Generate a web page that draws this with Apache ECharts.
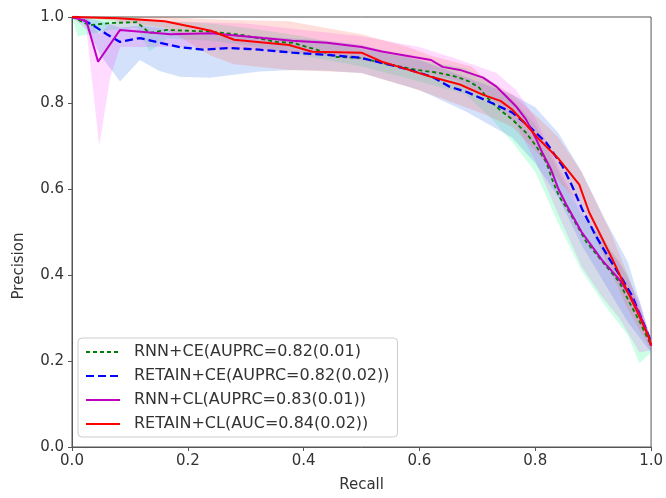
<!DOCTYPE html>
<html><head><meta charset="utf-8">
<script src="https://cdn.jsdelivr.net/npm/echarts@6/dist/echarts.min.js"></script>
<style>html,body{margin:0;padding:0;background:#fff}#c{width:666px;height:498px}</style>
</head><body><div id="c"></div>
<script>
// ---- data ----
const seriesNames = ['RNN+CE(AUPRC=0.82(0.01)', 'RETAIN+CE(AUPRC=0.82(0.02))', 'RNN+CL(AUPRC=0.83(0.01))', 'RETAIN+CL(AUC=0.84(0.02))'];
const xTicks = [0, 0.2, 0.4, 0.6, 0.8, 1.0];
const yTicks = [0, 0.2, 0.4, 0.6, 0.8, 1.0];

const greenX = [0, 0.03, 0.066, 0.112, 0.134, 0.164, 0.24, 0.295, 0.353, 0.381, 0.422, 0.457, 0.5, 0.536, 0.595, 0.634, 0.664, 0.686, 0.703, 0.715, 0.738, 0.76, 0.784, 0.802, 0.819, 0.829, 0.841, 0.859, 0.888, 0.922, 0.945, 0.962, 0.98, 1.0];
const greenY = [1.0, 0.981, 0.986, 0.988, 0.963, 0.97, 0.966, 0.958, 0.942, 0.94, 0.924, 0.907, 0.905, 0.893, 0.877, 0.87, 0.861, 0.85, 0.836, 0.815, 0.785, 0.762, 0.731, 0.699, 0.662, 0.623, 0.583, 0.546, 0.477, 0.421, 0.384, 0.338, 0.292, 0.236];

const blueX = [0, 0.01, 0.036, 0.06, 0.083, 0.117, 0.152, 0.186, 0.226, 0.272, 0.324, 0.381, 0.44, 0.5, 0.514, 0.548, 0.583, 0.622, 0.652, 0.681, 0.72, 0.738, 0.76, 0.79, 0.819, 0.847, 0.864, 0.881, 0.905, 0.928, 0.95, 0.967, 0.98, 0.997, 1.0];
const blueY = [1.0, 1.0, 0.981, 0.96, 0.942, 0.951, 0.94, 0.93, 0.924, 0.928, 0.924, 0.917, 0.912, 0.905, 0.9, 0.889, 0.877, 0.861, 0.838, 0.826, 0.803, 0.792, 0.778, 0.745, 0.708, 0.653, 0.606, 0.553, 0.49, 0.4375, 0.391, 0.352, 0.31, 0.255, 0.236];

const purpleX = [0, 0.025, 0.045, 0.083, 0.17, 0.24, 0.33, 0.38, 0.44, 0.5, 0.535, 0.59, 0.62, 0.64, 0.67, 0.71, 0.733, 0.75, 0.767, 0.784, 0.802, 0.812, 0.827, 0.84, 0.853, 0.88, 0.915, 0.945, 0.967, 0.98, 0.995, 1.0];
const purpleY = [1.0, 0.99, 0.896, 0.97, 0.96, 0.962, 0.951, 0.945, 0.94, 0.93, 0.92, 0.907, 0.9, 0.884, 0.877, 0.859, 0.838, 0.815, 0.792, 0.762, 0.715, 0.685, 0.646, 0.6, 0.565, 0.5, 0.435, 0.39, 0.345, 0.31, 0.26, 0.236];

const redX = [0, 0.08, 0.16, 0.24, 0.28, 0.375, 0.415, 0.5, 0.535, 0.565, 0.62, 0.67, 0.71, 0.74, 0.76, 0.784, 0.807, 0.841, 0.876, 0.893, 0.91, 0.933, 0.957, 0.979, 0.997, 1.0];
const redY = [1.0, 0.997, 0.99, 0.968, 0.947, 0.935, 0.919, 0.917, 0.896, 0.884, 0.861, 0.843, 0.819, 0.805, 0.785, 0.75, 0.715, 0.669, 0.61, 0.546, 0.5, 0.4375, 0.368, 0.306, 0.252, 0.236];

// shaded bands (lower / upper edges)
const greenBandX = [0, 0.01, 0.03, 0.066, 0.112, 0.134, 0.164, 0.24, 0.3, 0.4, 0.5, 0.6, 0.68, 0.72, 0.76, 0.8, 0.84, 0.88, 0.92, 0.96, 0.98, 1.0];
const greenBandLo = [1.0, 0.955, 0.96, 0.97, 0.975, 0.92, 0.95, 0.945, 0.935, 0.91, 0.885, 0.85, 0.82, 0.77, 0.71, 0.64, 0.52, 0.41, 0.33, 0.26, 0.195, 0.22];
const greenBandHi = [1.0, 1.0, 1.0, 1.0, 1.0, 0.99, 0.99, 0.985, 0.975, 0.955, 0.925, 0.9, 0.88, 0.85, 0.81, 0.75, 0.64, 0.54, 0.48, 0.4, 0.33, 0.25];

const blueBandX = [0, 0.02, 0.05, 0.083, 0.117, 0.15, 0.186, 0.238, 0.324, 0.381, 0.44, 0.5, 0.6, 0.68, 0.72, 0.76, 0.8, 0.84, 0.88, 0.92, 0.96, 1.0];
const blueBandLo = [1.0, 0.985, 0.91, 0.85, 0.9, 0.875, 0.861, 0.859, 0.873, 0.877, 0.875, 0.87, 0.83, 0.78, 0.75, 0.72, 0.66, 0.58, 0.47, 0.38, 0.29, 0.22];
const blueBandHi = [1.0, 1.0, 0.99, 0.975, 0.98, 0.975, 0.965, 0.96, 0.955, 0.95, 0.945, 0.935, 0.9, 0.86, 0.84, 0.82, 0.79, 0.73, 0.64, 0.53, 0.43, 0.25];

const purpleBandX = [0, 0.025, 0.047, 0.066, 0.083, 0.17, 0.3, 0.4, 0.5, 0.6, 0.67, 0.733, 0.767, 0.802, 0.84, 0.88, 0.915, 0.945, 0.98, 1.0];
const purpleBandLo = [1.0, 0.97, 0.70, 0.86, 0.93, 0.93, 0.925, 0.915, 0.9, 0.875, 0.85, 0.8, 0.75, 0.66, 0.54, 0.42, 0.35, 0.3, 0.22, 0.225];
const purpleBandHi = [1.0, 1.0, 0.96, 0.985, 0.995, 0.99, 0.985, 0.97, 0.955, 0.93, 0.9, 0.87, 0.83, 0.76, 0.65, 0.55, 0.48, 0.43, 0.34, 0.245];

const redBandX = [0, 0.08, 0.16, 0.24, 0.28, 0.375, 0.415, 0.5, 0.58, 0.62, 0.69, 0.71, 0.76, 0.81, 0.84, 0.88, 0.93, 0.96, 1.0];
const redBandLo = [1.0, 0.99, 0.975, 0.91, 0.89, 0.877, 0.875, 0.87, 0.838, 0.82, 0.785, 0.775, 0.745, 0.675, 0.62, 0.56, 0.41, 0.32, 0.225];
const redBandHi = [1.0, 1.0, 1.0, 0.995, 0.993, 0.99, 0.98, 0.96, 0.93, 0.91, 0.885, 0.86, 0.82, 0.76, 0.72, 0.64, 0.5, 0.4, 0.245];

// ---- chart ----
const FONT = 'DejaVu Sans';
function zip(xs, ys) { return xs.map((x, i) => [x, ys[i]]); }
function band(name, xs, lo, hi, color) {
  return {
    type: 'custom', name: name, silent: true, z: 1, clip: true,
    data: [[xs[0], lo[0]]], encode: { x: 0, y: 1 },
    renderItem: function (params, api) {
      const pts = [];
      for (let i = 0; i < xs.length; i++) pts.push(api.coord([xs[i], hi[i]]));
      for (let i = xs.length - 1; i >= 0; i--) pts.push(api.coord([xs[i], lo[i]]));
      return { type: 'polygon', shape: { points: pts }, style: { fill: color } };
    }
  };
}
function line(name, xs, ys, color, width, type) {
  return {
    type: 'line', name: name, data: zip(xs, ys), showSymbol: false, symbol: 'none', z: 3,
    lineStyle: { color: color, width: width, type: type }, itemStyle: { color: color }
  };
}

const chart = echarts.init(document.getElementById('c'), null, { renderer: 'canvas' });
chart.setOption({
  animation: false,
  backgroundColor: '#fff',
  grid: { left: 72, right: 14, top: 17, bottom: 49, show: true, borderColor: '#555', borderWidth: 1, backgroundColor: 'transparent' },
  xAxis: {
    type: 'value', min: 0, max: 1, interval: 0.2,
    name: 'Recall', nameLocation: 'middle', nameGap: 31,
    nameTextStyle: { fontSize: 15, color: '#333', fontFamily: FONT },
    axisLine: { show: true, lineStyle: { color: '#555', width: 1 } },
    axisTick: { show: true, inside: false, length: 4, lineStyle: { color: '#555' } },
    axisLabel: { fontSize: 15, color: '#333', fontFamily: FONT, margin: 7, formatter: v => v.toFixed(1) },
    splitLine: { show: false }
  },
  yAxis: {
    type: 'value', min: 0, max: 1, interval: 0.2,
    axisLine: { show: true, lineStyle: { color: '#555', width: 1 } },
    axisTick: { show: true, inside: false, length: 4, lineStyle: { color: '#555' } },
    axisLabel: { fontSize: 15, color: '#333', fontFamily: FONT, margin: 8, formatter: v => v.toFixed(1) },
    splitLine: { show: false }
  },
  graphic: [{
    type: 'text', x: 19, y: 266, rotation: Math.PI / 2,
    style: { text: 'Precision', fontSize: 15, fill: '#333', fontFamily: FONT, align: 'center', verticalAlign: 'middle' }
  }],
  legend: {
    data: seriesNames, orient: 'vertical', left: 78, top: 338,
    itemWidth: 34, itemHeight: 12, itemGap: 6,
    itemStyle: { opacity: 0 },
    padding: [5, 8, 4, 7],
    borderColor: '#ccc', borderWidth: 1, borderRadius: 4,
    backgroundColor: 'rgba(255,255,255,0.85)',
    textStyle: { fontSize: 16, color: '#333', fontFamily: FONT, lineHeight: 18, padding: [0, 0, 0, 9] }
  },
  series: [
    band('band-rnn-ce', greenBandX, greenBandLo, greenBandHi, 'rgba(0,255,127,0.2)'),
    band('band-retain-ce', blueBandX, blueBandLo, blueBandHi, 'rgba(100,149,237,0.28)'),
    band('band-rnn-cl', purpleBandX, purpleBandLo, purpleBandHi, 'rgba(255,0,255,0.14)'),
    band('band-retain-cl', redBandX, redBandLo, redBandHi, 'rgba(255,80,60,0.18)'),
    line(seriesNames[0], greenX, greenY, '#008000', 1.8, [4, 3]),
    line(seriesNames[1], blueX, blueY, '#0000ff', 2.3, [8, 4]),
    line(seriesNames[2], purpleX, purpleY, '#bf00bf', 2, 'solid'),
    line(seriesNames[3], redX, redY, '#ff0000', 2, 'solid')
  ]
});
</script>
</body></html>
